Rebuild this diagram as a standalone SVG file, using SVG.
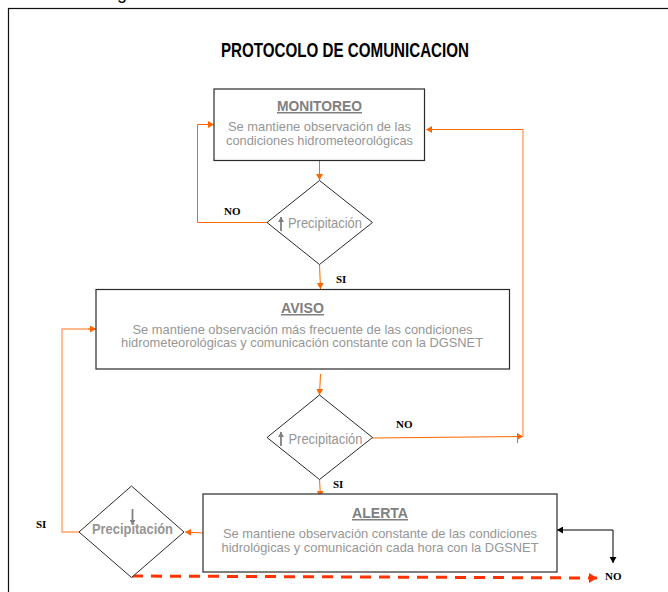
<svg xmlns="http://www.w3.org/2000/svg" width="668" height="592" viewBox="0 0 668 592">
<defs>
<marker id="o" markerUnits="userSpaceOnUse" markerWidth="7" markerHeight="7" refX="6" refY="3.5" orient="auto"><path d="M0 0L6 3.500L0 7Z" fill="#ff6600"/></marker>
<marker id="k" markerUnits="userSpaceOnUse" markerWidth="7" markerHeight="7" refX="6" refY="3.5" orient="auto"><path d="M0 0L6 3.500L0 7Z" fill="#000"/></marker>
<marker id="r" markerUnits="userSpaceOnUse" markerWidth="9" markerHeight="10" refX="8" refY="5" orient="auto"><path d="M0 0L8 5L0 10Z" fill="#ff3300"/></marker>
<marker id="g" markerUnits="userSpaceOnUse" markerWidth="6" markerHeight="6" refX="5" refY="3" orient="auto"><path d="M0 0L5 3L0 6Z" fill="#808080"/></marker>
</defs>
<style>
text{font-family:"Liberation Sans",Arial,sans-serif}
.box,.dia{fill:#fff;stroke:#2a2a2a;stroke-width:1.2}
.dia{stroke-width:1}
.h{font-size:15px;font-weight:bold;fill:#808080;text-decoration:underline;text-anchor:middle}
.b{font-size:13px;fill:#969696;text-anchor:middle}
.p{font-size:14px;fill:#969696}
.l{font-family:"Liberation Serif",serif;font-size:11px;font-weight:bold;fill:#000}
.c{fill:none;stroke:#ff6600;stroke-width:1}
.c2{fill:none;stroke:#ffa366;stroke-width:1.4}
.up{stroke:#808080;stroke-width:1.8;fill:none}
</style>
<text x="117" y="-1" font-size="18" fill="#000">g</text>
<rect x="8.500" y="8.500" width="700" height="640" fill="#fff" stroke="#111" stroke-width="1.200"/>
<text x="345" y="57" font-size="20" font-weight="bold" fill="#000" text-anchor="middle" textLength="248" lengthAdjust="spacingAndGlyphs">PROTOCOLO DE COMUNICACION</text>
<g id="connectors">
<path class="c" d="M319.500 160V180" marker-end="url(#o)"/>
<path class="c" d="M267 222.500H197.500V124.500H214" marker-end="url(#o)"/>
<path class="c" d="M319.500 264.500L320.500 289" marker-end="url(#o)"/>
<path class="c" d="M523 129.500H426" marker-end="url(#o)"/>
<path class="c2" d="M523 129.500V436.500"/>
<path class="c" d="M372 438L523 436.500" marker-end="url(#o)"/>
<path class="c" d="M517.500 433V443"/>
<path class="c" d="M320.500 374L319.500 395" marker-end="url(#o)"/>
<path class="c" d="M319.500 479L320.500 497" marker-end="url(#o)"/>
<path class="c" d="M203 533L185 532" marker-end="url(#o)"/>
<path class="c2" d="M79 532H62V329H96"/>
<path class="c" d="M88 329H96" marker-end="url(#o)"/>
<path d="M613 530H557" fill="none" stroke="#000" stroke-width="1" marker-end="url(#k)"/>
<path d="M613 530V563" fill="none" stroke="#000" stroke-width="1" marker-end="url(#k)"/>
<path d="M132 576L597 578" fill="none" stroke="#ff3300" stroke-width="3" stroke-dasharray="11 8" marker-end="url(#r)"/>
</g>
<g id="monitoreo"><rect class="box" x="214" y="89" width="210.500" height="71.500"/>
<text class="h" x="319.500" y="111" textLength="85" lengthAdjust="spacingAndGlyphs">MONITOREO</text>
<text class="b" x="319.500" y="131" textLength="183" lengthAdjust="spacingAndGlyphs">Se mantiene observación de las</text>
<text class="b" x="319.500" y="145" textLength="187" lengthAdjust="spacingAndGlyphs">condiciones hidrometeorológicas</text></g>
<g id="decision1"><path class="dia" d="M319.500 180.500L372.500 222.500L319.500 264.500L267 222.500Z"/>
<path class="up" d="M281 231V217" marker-end="url(#g)"/>
<text class="p" x="288" y="228" textLength="74" lengthAdjust="spacingAndGlyphs">Precipitación</text></g>
<g id="aviso"><rect class="box" x="96" y="289.500" width="413.500" height="79.500"/>
<text class="h" x="302.500" y="313" textLength="43" lengthAdjust="spacingAndGlyphs">AVISO</text>
<text class="b" x="302.500" y="334" textLength="340" lengthAdjust="spacingAndGlyphs">Se mantiene observación más frecuente de las condiciones</text>
<text class="b" x="302" y="347" textLength="362" lengthAdjust="spacingAndGlyphs">hidrometeorológicas y comunicación constante con la DGSNET</text></g>
<g id="decision2"><path class="dia" d="M319.500 395L372.500 437.500L319.500 479.500L267 437.500Z"/>
<path class="up" d="M281 446V432" marker-end="url(#g)"/>
<text class="p" x="288.500" y="444" textLength="74" lengthAdjust="spacingAndGlyphs">Precipitación</text></g>
<g id="alerta"><rect class="box" x="203" y="494" width="354" height="78"/>
<text class="h" x="380" y="518" textLength="56" lengthAdjust="spacingAndGlyphs">ALERTA</text>
<text class="b" x="380" y="538" textLength="314" lengthAdjust="spacingAndGlyphs">Se mantiene observación constante de las condiciones</text>
<text class="b" x="380" y="552" textLength="317" lengthAdjust="spacingAndGlyphs">hidrológicas y comunicación cada hora con la DGSNET</text></g>
<g id="decision3"><path class="dia" d="M131.500 486L184 532L131.500 577.500L79 532Z"/>
<path class="up" d="M132.500 509V525" marker-end="url(#g)"/>
<text x="132.500" y="534" font-size="14" font-weight="bold" fill="#969696" text-anchor="middle" textLength="81" lengthAdjust="spacingAndGlyphs">Precipitación</text></g>
<g id="labels">
<text class="l" x="224" y="215">NO</text>
<text class="l" x="336" y="283">SI</text>
<text class="l" x="396" y="428">NO</text>
<text class="l" x="333" y="488">SI</text>
<text class="l" x="36" y="528">SI</text>
<text class="l" x="605" y="580">NO</text>
</g>
</svg>
